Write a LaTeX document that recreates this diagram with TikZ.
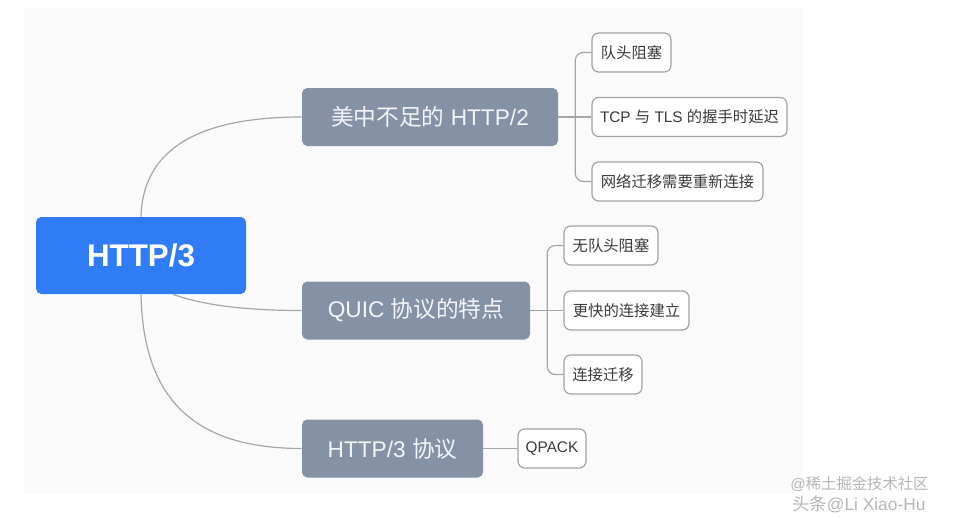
\documentclass[tikz,border=0pt]{standalone}
\usepackage{fontspec}
\setmainfont{Liberation Sans}
\newfontfamily\cjk{Noto Sans CJK SC}
\definecolor{rootblue}{HTML}{2F7CF6}
\definecolor{branchgray}{HTML}{8592A6}
\definecolor{branchtext}{HTML}{F2F4F7}
\definecolor{leafborder}{HTML}{9EA3AA}
\definecolor{leaftext}{HTML}{3A3A3A}
\definecolor{linkgray}{HTML}{A3A6AB}
\definecolor{panel}{HTML}{FAFAFA}
\definecolor{wmgray}{HTML}{B5B5B5}
\begin{document}
\begin{tikzpicture}[x=0.75pt,y=-0.75pt,
  rootbox/.style={fill=rootblue, rounded corners=4pt, minimum width=157.5pt, minimum height=57.75pt, inner sep=0pt, text=white, font=\bfseries\fontsize{23.5}{28}\selectfont},
  branchbox/.style={fill=branchgray, rounded corners=4pt, minimum height=43.5pt, inner sep=0pt, text=branchtext, font=\fontsize{17}{20}\selectfont},
  leafbox/.style={draw=leafborder, line width=0.9pt, fill=white, rounded corners=5pt, minimum height=29.25pt, inner sep=0pt, text=leaftext, font=\fontsize{11.5}{14}\selectfont},
  link/.style={draw=linkgray, line width=0.9pt},
  bar/.style={link, rounded corners=6pt},
  wm/.style={text=wmgray, inner sep=0pt, anchor=west}
]
\useasboundingbox (0,0) rectangle (963,518);
\fill[white] (0,0) rectangle (963,518);
\fill[panel] (24,8) rectangle (803,493);

% root
\node[rootbox] (root) at (141,255.5) {HTTP/3};

% branches
\node[branchbox, minimum width=192pt] (b1) at (430,117) {{\cjk 美中不足的} HTTP/2};
\node[branchbox, minimum width=171pt] (b2) at (416,310.5) {QUIC {\cjk 协议的特点}};
\node[branchbox, minimum width=135.75pt] (b3) at (392.5,448.5) {HTTP/3 {\cjk 协议}};

% leaves of b1
\node[leafbox, minimum width=59.25pt] (l11) at (631.5,52.5) {\cjk 队头阻塞};
\node[leafbox, minimum width=146.25pt] (l12) at (689.5,117) {TCP {\cjk 与} TLS {\cjk 的握手时延迟}};
\node[leafbox, minimum width=128.25pt] (l13) at (677.5,181.5) {\cjk 网络迁移需要重新连接};

% leaves of b2
\node[leafbox, minimum width=70.5pt] (l21) at (611,245.5) {\cjk 无队头阻塞};
\node[leafbox, minimum width=93.75pt] (l22) at (626.5,310.5) {\cjk 更快的连接建立};
\node[leafbox, minimum width=58.5pt] (l23) at (603,374.5) {\cjk 连接迁移};

% leaf of b3
\node[leafbox, minimum width=51pt] (l31) at (552,448.5) {QPACK};

% root to branches
\draw[link] (root.north) .. controls (143,148) and (200,117) .. (b1.west);
\draw[link] ([xshift=24pt]root.south) .. controls (205,306) and (250,310.5) .. (b2.west);
\draw[link] (root.south) .. controls (143,395) and (190,448.5) .. (b3.west);

% branch to leaves
\draw[link] (b1.east) -- (l12.west);
\draw[bar] ([xshift=12.75pt]b1.east) |- (l11.west);
\draw[bar] ([xshift=12.75pt]b1.east) |- (l13.west);
\draw[link] (b2.east) -- (l22.west);
\draw[bar] ([xshift=12.75pt]b2.east) |- (l21.west);
\draw[bar] ([xshift=12.75pt]b2.east) |- (l23.west);
\draw[link] (b3.east) -- (l31.west);

% watermarks
\node[wm, font=\fontsize{11.5}{13}\selectfont] (wm1) at (790,484) {@{\cjk 稀土掘金技术社区}};
\node[wm, font=\fontsize{13}{15}\selectfont] (wm2) at (792,504) {{\cjk 头条}@Li Xiao-Hu};
\end{tikzpicture}
\end{document}
